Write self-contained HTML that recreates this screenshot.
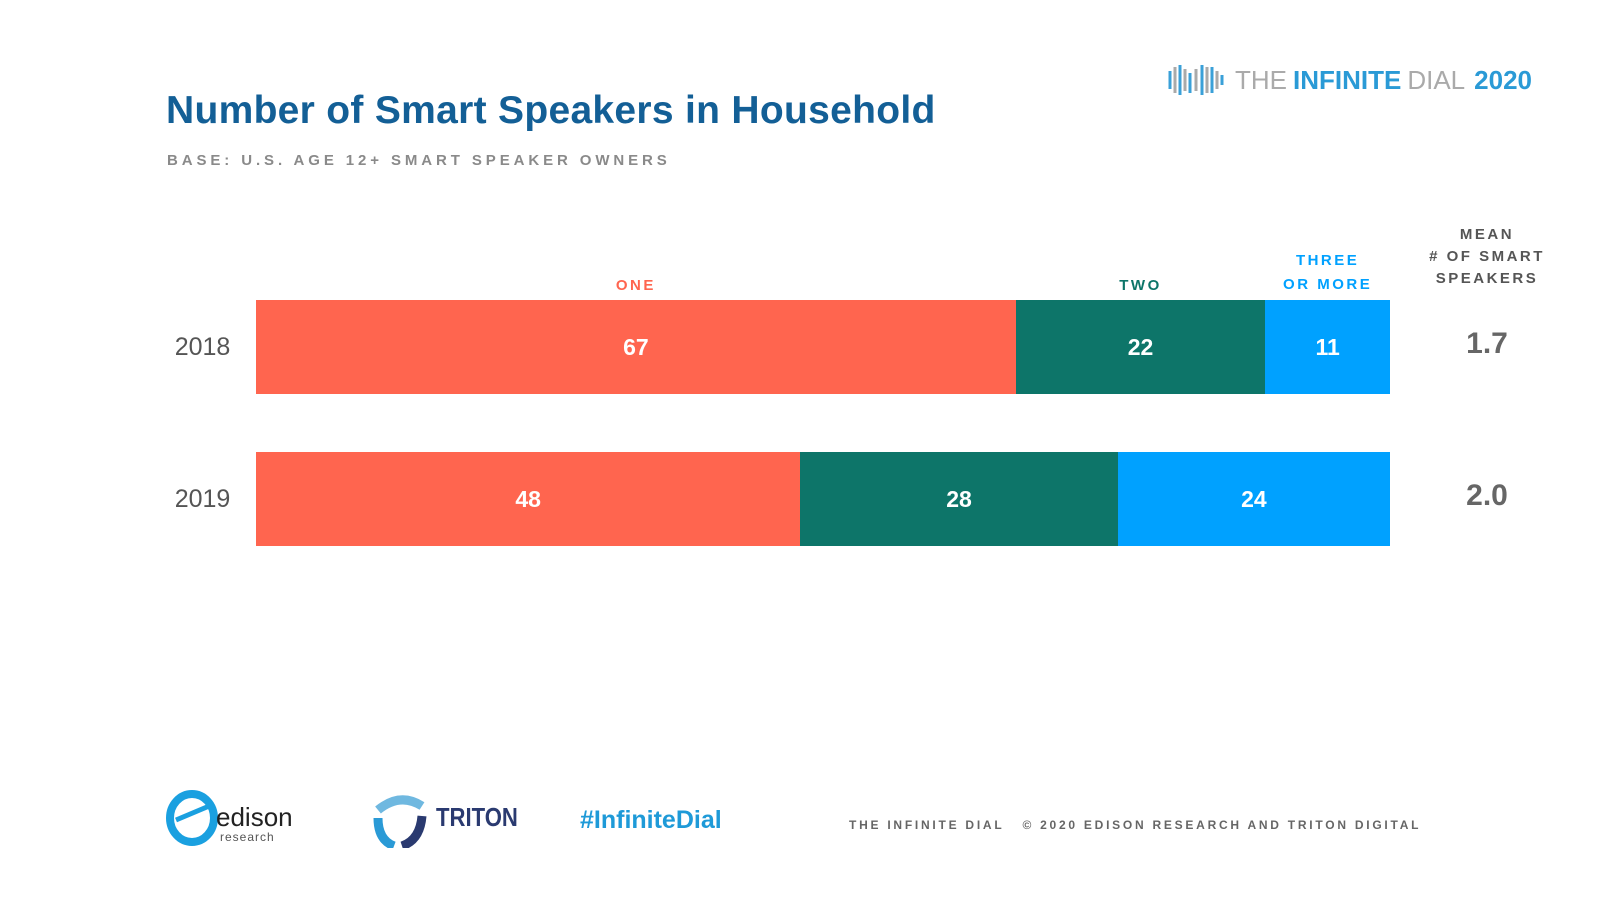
<!DOCTYPE html>
<html><head><meta charset="utf-8">
<style>
body{margin:0;width:1600px;height:900px;background:#fff;font-family:"Liberation Sans",sans-serif;position:relative;overflow:hidden}
.abs{position:absolute}
.title{left:166px;top:89px;font-size:39px;font-weight:bold;color:#135f96;letter-spacing:0.3px}
.sub{left:167px;top:152px;font-size:15px;font-weight:bold;color:#8a8a8a;letter-spacing:3.9px}
.hdr{font-size:15px;font-weight:bold;letter-spacing:2.5px;text-align:center;line-height:24px}
.seg{position:absolute;color:#fff;font-weight:bold;font-size:23px;display:flex;align-items:center;justify-content:center}
.year{font-size:25px;color:#555;left:170px;width:65px;text-align:center}
.mean{font-size:30px;font-weight:bold;color:#666;left:1422px;width:130px;text-align:center}
.foot{left:849px;top:818px;font-size:12px;font-weight:bold;color:#666;letter-spacing:2.75px}
</style></head><body>
<div class="abs title">Number of Smart Speakers in Household</div>
<div class="abs sub">BASE: U.S. AGE 12+ SMART SPEAKER OWNERS</div>

<div class="abs" style="left:1166px;top:61px;display:flex;align-items:center">
 <svg width="62" height="38"><g stroke-width="3">
  <line x1="4" y1="10" x2="4" y2="28" stroke="#3aa0d8"/><line x1="9" y1="6" x2="9" y2="32" stroke="#aaa"/><line x1="14" y1="4" x2="14" y2="34" stroke="#3aa0d8"/><line x1="19" y1="8" x2="19" y2="30" stroke="#aaa"/><line x1="24" y1="12" x2="24" y2="32" stroke="#3aa0d8"/><line x1="30" y1="8" x2="30" y2="30" stroke="#aaa"/><line x1="36" y1="4" x2="36" y2="34" stroke="#3aa0d8"/><line x1="41" y1="6" x2="41" y2="32" stroke="#aaa"/><line x1="46" y1="6" x2="46" y2="32" stroke="#3aa0d8"/><line x1="51" y1="10" x2="51" y2="28" stroke="#aaa"/><line x1="56" y1="14" x2="56" y2="24" stroke="#3aa0d8"/></g></svg>
 <span style="font-size:26px;color:#aaa;margin-left:7px">THE </span><span style="font-size:26px;color:#2a9ad6;font-weight:bold;margin-left:6px">INFINITE</span><span style="font-size:26px;color:#aaa;margin-left:6px">DIAL</span><span style="font-size:26px;color:#2a9ad6;font-weight:bold;margin-left:9px">2020</span>
</div>

<div id="chart"></div>

<div class="abs hdr" style="left:1412px;top:224px;width:150px;color:#555;line-height:22px">MEAN<br># OF SMART<br>SPEAKERS</div>

<div class="abs" style="left:166px;top:790px">
 <svg width="60" height="60"><ellipse cx="26" cy="28" rx="22" ry="24" fill="none" stroke="#1aa0e0" stroke-width="8"/><path d="M10 30 L48 14" stroke="#1aa0e0" stroke-width="5"/></svg>
 <span class="abs" style="left:50px;top:12px;font-size:26px;color:#222">edison</span>
 <span class="abs" style="left:54px;top:40px;font-size:12px;color:#555;letter-spacing:1px">research</span>
</div>
<div class="abs" style="left:372px;top:792px">
 <svg width="56" height="56"><path d="M6 18 Q28 0 50 14" stroke="#6fb8e0" stroke-width="9" fill="none"/><path d="M6 26 Q6 48 22 54" stroke="#2a9ad6" stroke-width="9" fill="none"/><path d="M50 24 Q48 48 30 54" stroke="#2a3a70" stroke-width="9" fill="none"/></svg>
 <span class="abs" style="left:64px;top:10px;font-size:26px;font-weight:bold;color:#2a3a70;transform:scaleX(0.85);transform-origin:left">TRITON</span>
</div>
<div class="abs" style="left:580px;top:806px;font-size:25px;font-weight:bold;color:#1e9ad8">#InfiniteDial</div>
<div class="abs foot">THE INFINITE DIAL &nbsp; © 2020 EDISON RESEARCH AND TRITON DIGITAL</div>

<script>
const categories = ["ONE","TWO","THREE<br>OR MORE"];
const years = ["2018","2019"];
const valuesOne = [67,48];
const valuesTwo = [22,28];
const valuesThree = [11,24];
const means = ["1.7","2.0"];

const colors = ["#ff654f","#0d7569","#00a1ff"];
const x0 = 256, plotW = 1134, barH = 94;
const rowTop = [300, 452];
const xScale = v => v / 100 * plotW;
const chart = document.getElementById('chart');
const series = [valuesOne, valuesTwo, valuesThree];

years.forEach((yr, i) => {
  let acc = 0;
  series.forEach((s, k) => {
    const d = document.createElement('div');
    d.className = 'seg';
    
    
    d.style.left = (x0 + xScale(acc)) + 'px';
    d.style.width = xScale(s[i]) + 'px';
    d.style.top = rowTop[i] + 'px';
    d.style.height = barH + 'px';
    d.style.background = colors[k];
    d.textContent = s[i];
    chart.appendChild(d);
    if (i === 0) {
      const h = document.createElement('div');
      h.className = 'abs hdr';
      
      
      h.innerHTML = categories[k];
      h.style.color = colors[k];
      h.style.left = (x0 + xScale(acc)) + 'px';
      h.style.width = xScale(s[i]) + 'px';
      h.style.top = (k === 2 ? 249 : 274) + 'px';
      chart.appendChild(h);
    }
    acc += s[i];
  });
  const y = document.createElement('div');
  y.className = 'abs year';
  
  
  y.textContent = yr;
  y.style.top = (rowTop[i] + 33) + 'px';
  chart.appendChild(y);
  const m = document.createElement('div');
  m.className = 'abs mean';
  
  
  m.textContent = means[i];
  m.style.top = (rowTop[i] + 27) + 'px';
  chart.appendChild(m);
});
</script>
</body></html>
